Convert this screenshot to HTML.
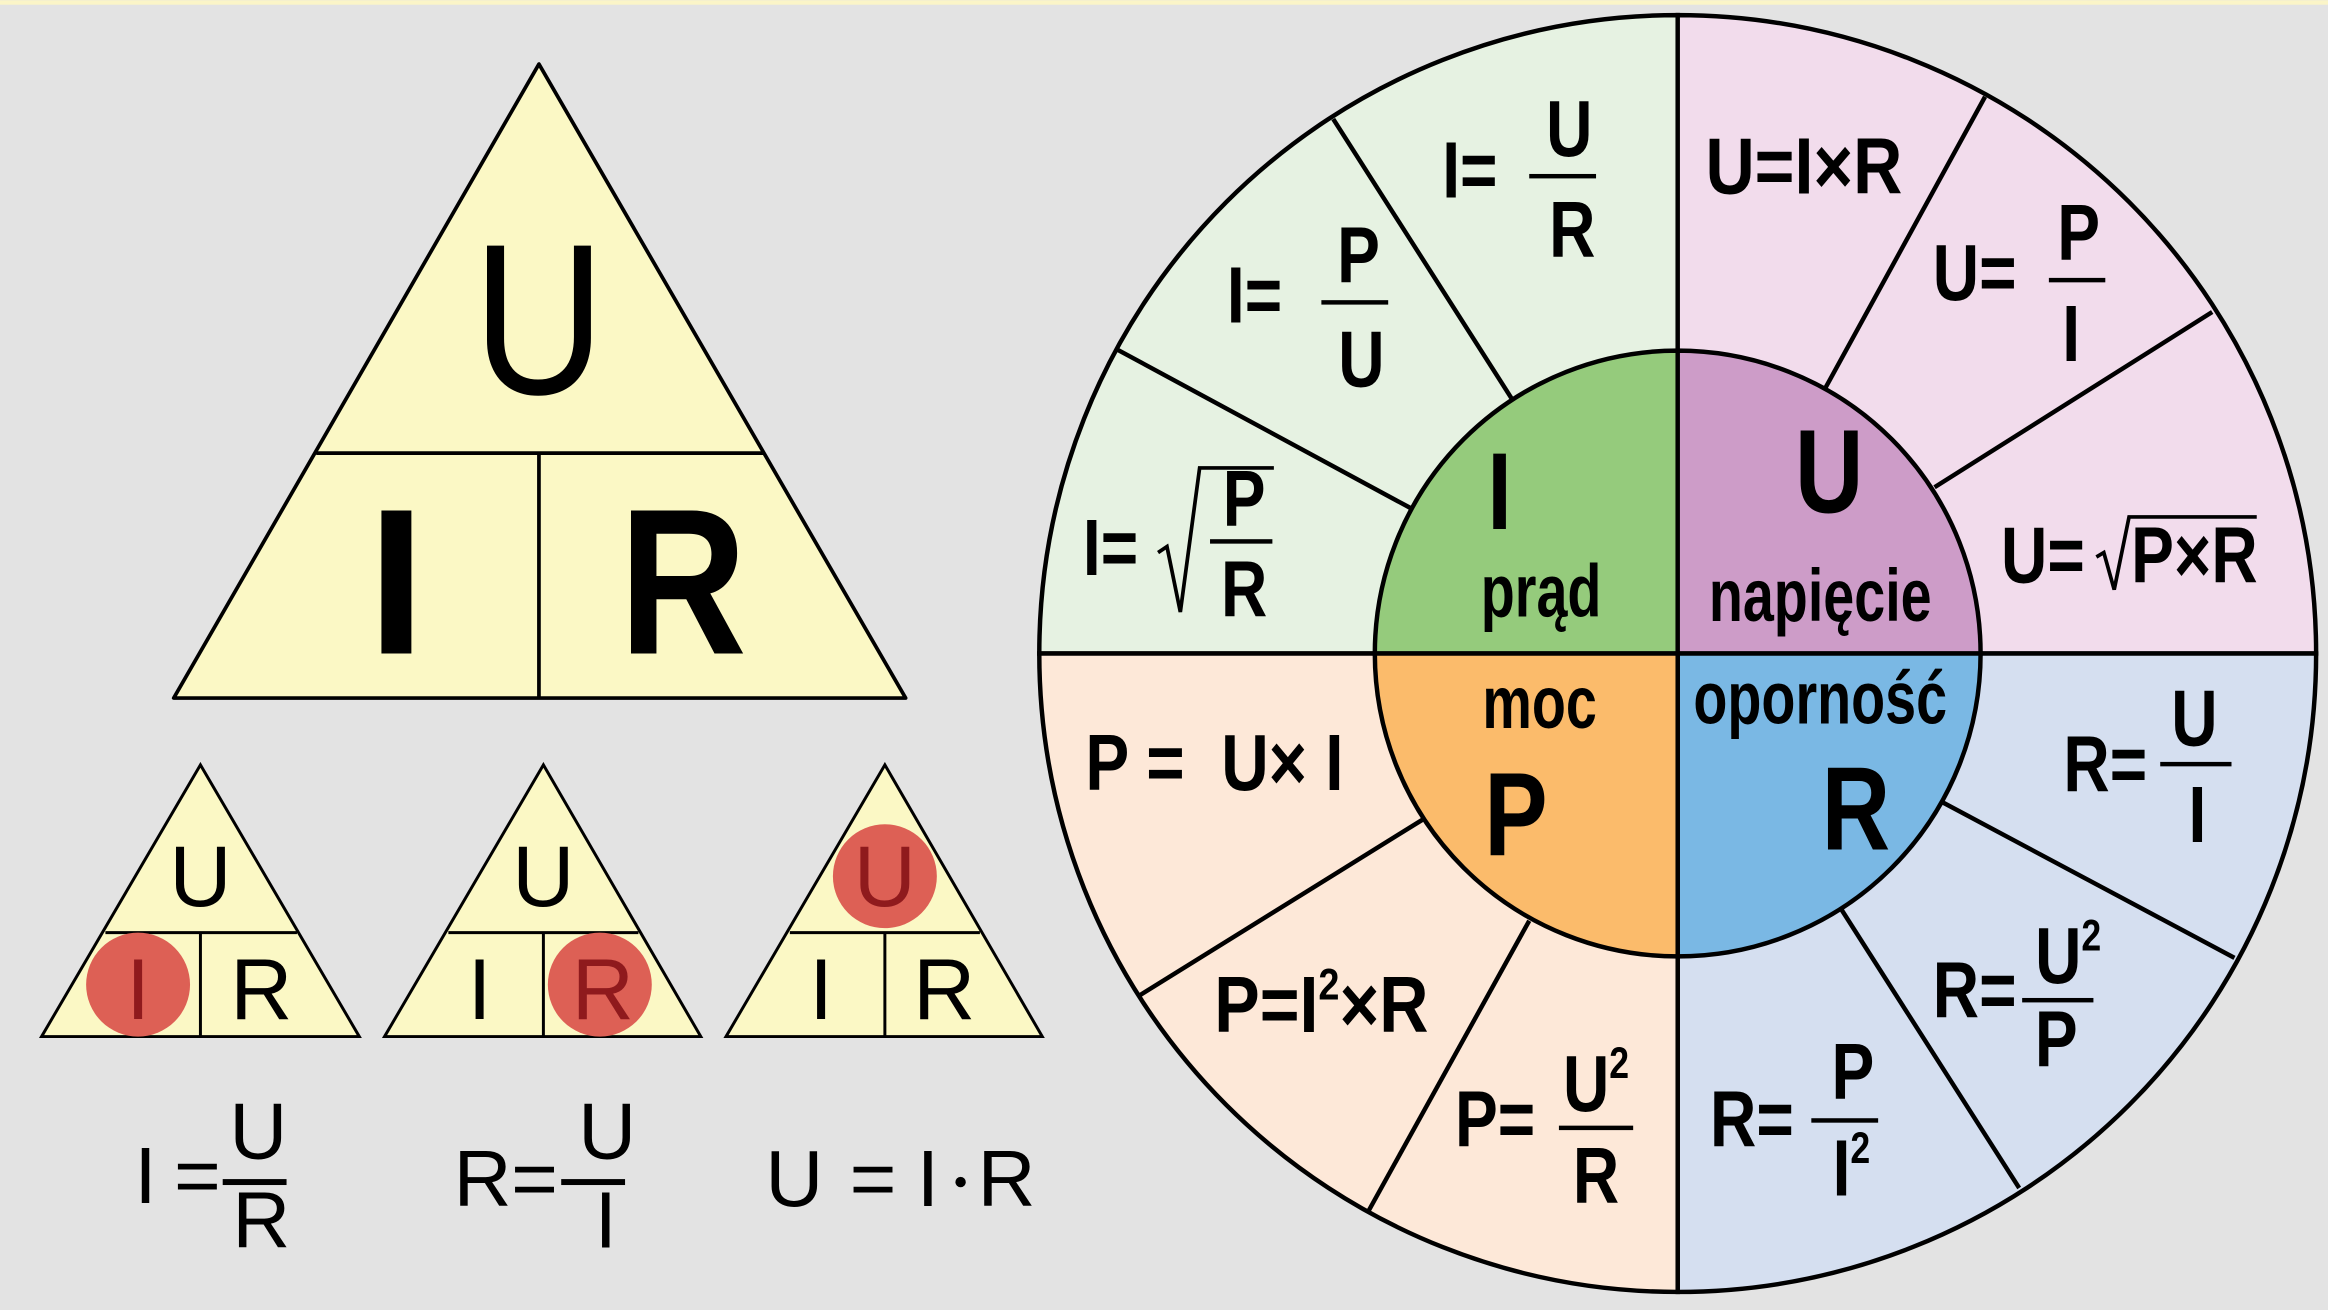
<!DOCTYPE html>
<html><head><meta charset="utf-8"><style>
html,body{margin:0;padding:0;background:#e3e3e3;}
svg{display:block;}
.n{font-family:"Liberation Sans",sans-serif;font-weight:bold;fill:#000;}
.r{font-family:"Liberation Sans","DejaVu Sans",sans-serif;fill:#000;}
</style></head><body>
<svg width="2328" height="1310" viewBox="0 0 1568 882" xmlns="http://www.w3.org/2000/svg">
<rect width="1568" height="882" fill="#e3e3e3"/>
<rect width="1568" height="3" fill="#fbf5c8"/>
<polygon points="363,43 117,470 610,470" fill="#fbf8c5" stroke="#000" stroke-width="2.5" stroke-linejoin="round"/>
<line x1="213" y1="305" x2="514" y2="305" stroke="#000" stroke-width="2.5"/>
<line x1="363" y1="305" x2="363" y2="470" stroke="#000" stroke-width="2.5"/>
<g transform="translate(363,265) scale(.85,1)"><text class="r" x="0" y="0" font-size="145" text-anchor="middle">U</text></g>
<text class="r" x="267" y="440" font-size="140" text-anchor="middle" font-family="Liberation Serif" font-weight="bold">I</text>
<g transform="translate(460,440) scale(.85,1)"><text class="r" x="0" y="0" font-size="140" text-anchor="middle" font-weight="bold">R</text></g>
<g stroke="#000" stroke-width="2">
<polygon points="135,515 28,698 242,698" fill="#fbf8c5"/>
<line x1="71" y1="628" x2="200" y2="628"/><line x1="135" y1="628" x2="135" y2="698"/>
<polygon points="366,515 259,698 472,698" fill="#fbf8c5"/>
<line x1="302" y1="628" x2="430" y2="628"/><line x1="366" y1="628" x2="366" y2="698"/>
<polygon points="596,515 489,698 702,698" fill="#fbf8c5"/>
<line x1="532" y1="628" x2="660" y2="628"/><line x1="596" y1="628" x2="596" y2="698"/>
</g>
<ellipse cx="93" cy="663" rx="35" ry="35" fill="#dd6055"/>
<ellipse cx="404" cy="663" rx="35" ry="35" fill="#dd6055"/>
<ellipse cx="596" cy="590" rx="35" ry="35" fill="#dd6055"/>
<g font-size="58" text-anchor="middle">
<text class="r" x="135" y="610">U</text>
<text class="r" x="93" y="686" style="fill:#8f1a1d" font-family="Liberation Serif">I</text>
<text class="r" x="176" y="686">R</text>
<text class="r" x="366" y="610">U</text>
<text class="r" x="323" y="686" font-family="Liberation Serif">I</text>
<text class="r" x="406" y="686" style="fill:#8f1a1d">R</text>
<text class="r" x="596" y="610" style="fill:#8f1a1d">U</text>
<text class="r" x="553" y="686" font-family="Liberation Serif">I</text>
<text class="r" x="636" y="686">R</text>
</g>
<g font-size="54">
<text class="r" x="98" y="810" text-anchor="middle" font-family="Liberation Serif">I</text>
<text class="r" x="133" y="810" text-anchor="middle">=</text>
<rect x="150" y="794" width="43" height="4" fill="#000"/>
<text class="r" x="174" y="780" text-anchor="middle">U</text>
<text class="r" x="176" y="840" text-anchor="middle">R</text>
<text class="r" x="325" y="812" text-anchor="middle">R</text>
<text class="r" x="360" y="812" text-anchor="middle">=</text>
<rect x="378" y="794" width="43" height="4" fill="#000"/>
<text class="r" x="409" y="780" text-anchor="middle">U</text>
<text class="r" x="408" y="840" text-anchor="middle" font-family="Liberation Serif">I</text>
<text class="r" x="535" y="812" text-anchor="middle">U</text>
<text class="r" x="588" y="812" text-anchor="middle">=</text>
<text class="r" x="625" y="812" text-anchor="middle" font-family="Liberation Serif">I</text>
<circle cx="647" cy="796" r="3.5" fill="#000"/>
<text class="r" x="678" y="812" text-anchor="middle">R</text>
</g>
<g stroke="#000" stroke-width="3">
<path d="M1130,440 L700,440 A430,430 0 0 1 1130,10 Z" fill="#e6f2e2"/>
<path d="M1130,440 L1130,10 A430,430 0 0 1 1560,440 Z" fill="#f2dcec"/>
<path d="M1130,440 L1560,440 A430,430 0 0 1 1130,870 Z" fill="#d5dff0"/>
<path d="M1130,440 L1130,870 A430,430 0 0 1 700,440 Z" fill="#fde8d8"/>
<line x1="898" y1="80" x2="1018" y2="268"/>
<line x1="752" y1="235" x2="950" y2="342"/>
<line x1="1337" y1="65" x2="1229" y2="262"/>
<line x1="1490" y1="210" x2="1303" y2="328"/>
<line x1="1505" y1="645" x2="1308" y2="540"/>
<line x1="1360" y1="800" x2="1240" y2="612"/>
<line x1="768" y1="670" x2="958" y2="552"/>
<line x1="922" y1="815" x2="1030" y2="620"/>
<path d="M1130,440 L926,440 A204,204 0 0 1 1130,236 Z" fill="#95cb7c"/>
<path d="M1130,440 L1130,236 A204,204 0 0 1 1334,440 Z" fill="#cd9cc8"/>
<path d="M1130,440 L1334,440 A204,204 0 0 1 1130,644 Z" fill="#7ab8e4"/>
<path d="M1130,440 L1130,644 A204,204 0 0 1 926,440 Z" fill="#fbbb6b"/>
</g>
<g class="n" font-size="54" text-anchor="middle">
<g transform="translate(990,133) scale(.8,1)"><text class="n">I=</text></g>
<rect x="1030" y="117" width="45" height="3" fill="#000"/>
<g transform="translate(1057,105) scale(.8,1)"><text class="n">U</text></g>
<g transform="translate(1059,173) scale(.8,1)"><text class="n">R</text></g>
<g transform="translate(845,217) scale(.8,1)"><text class="n">I=</text></g>
<rect x="890" y="202" width="45" height="3" fill="#000"/>
<g transform="translate(915,190) scale(.8,1)"><text class="n">P</text></g>
<g transform="translate(917,260) scale(.8,1)"><text class="n">U</text></g>
<g transform="translate(748,387) scale(.8,1)"><text class="n">I=</text></g>
<path d="M780,372 L786,368 L795,412 L808,315 L858,315" fill="none" stroke="#000" stroke-width="2.5"/>
<rect x="815" y="363" width="42" height="3" fill="#000"/>
<g transform="translate(838,354) scale(.8,1)"><text class="n">P</text></g>
<g transform="translate(838,415) scale(.8,1)"><text class="n">R</text></g>
<g transform="translate(1215,130) scale(.85,1)"><text class="n">U=I×R</text></g>
<g transform="translate(1330,202) scale(.8,1)"><text class="n">U=</text></g>
<rect x="1380" y="187" width="38" height="3" fill="#000"/>
<g transform="translate(1400,175) scale(.8,1)"><text class="n">P</text></g>
<g transform="translate(1395,243) scale(.8,1)"><text class="n">I</text></g>
<g transform="translate(1376,392) scale(.8,1)"><text class="n">U=</text></g>
<path d="M1412,375 L1417,372 L1424,397 L1434,348 L1520,348" fill="none" stroke="#000" stroke-width="2.5"/>
<g transform="translate(1478,392) scale(.8,1)"><text class="n">P×R</text></g>
<g transform="translate(818,532) scale(.82,1)"><text class="n" xml:space="preserve">P =  U× I</text></g>
<g transform="translate(890,695) scale(.85,1)"><text class="n">P=I<tspan font-size="30" dy="-22">2</tspan><tspan dy="22">×R</tspan></text></g>
<g transform="translate(1007,772) scale(.8,1)"><text class="n">P=</text></g>
<rect x="1050" y="758" width="50" height="3" fill="#000"/>
<g transform="translate(1075,748) scale(.8,1)"><text class="n">U<tspan font-size="30" dy="-22">2</tspan></text></g>
<g transform="translate(1075,810) scale(.8,1)"><text class="n">R</text></g>
<g transform="translate(1418,533) scale(.8,1)"><text class="n">R=</text></g>
<rect x="1455" y="513" width="48" height="3" fill="#000"/>
<g transform="translate(1478,502) scale(.8,1)"><text class="n">U</text></g>
<g transform="translate(1480,567) scale(.8,1)"><text class="n">I</text></g>
<g transform="translate(1330,685) scale(.8,1)"><text class="n">R=</text></g>
<rect x="1362" y="672" width="48" height="3" fill="#000"/>
<g transform="translate(1393,662) scale(.8,1)"><text class="n">U<tspan font-size="30" dy="-22">2</tspan></text></g>
<g transform="translate(1385,718) scale(.8,1)"><text class="n">P</text></g>
<g transform="translate(1180,772) scale(.8,1)"><text class="n">R=</text></g>
<rect x="1220" y="753" width="45" height="3" fill="#000"/>
<g transform="translate(1248,740) scale(.8,1)"><text class="n">P</text></g>
<g transform="translate(1247,805) scale(.8,1)"><text class="n">I<tspan font-size="30" dy="-22">2</tspan></text></g>
<g transform="translate(1010,356) scale(.8,1)"><text class="n" font-size="74">I</text></g>
<g transform="translate(1038,415) scale(.75,1)"><text class="n" font-size="50">prąd</text></g>
<g transform="translate(1232,345) scale(.8,1)"><text class="n" font-size="80">U</text></g>
<g transform="translate(1226,418) scale(.75,1)"><text class="n" font-size="50">napięcie</text></g>
<g transform="translate(1037,490) scale(.75,1)"><text class="n" font-size="50">moc</text></g>
<g transform="translate(1021,576) scale(.8,1)"><text class="n" font-size="80">P</text></g>
<g transform="translate(1226,487) scale(.75,1)"><text class="n" font-size="50">oporność</text></g>
<g transform="translate(1250,572) scale(.8,1)"><text class="n" font-size="80">R</text></g>
</g>
</svg>
</body></html>
